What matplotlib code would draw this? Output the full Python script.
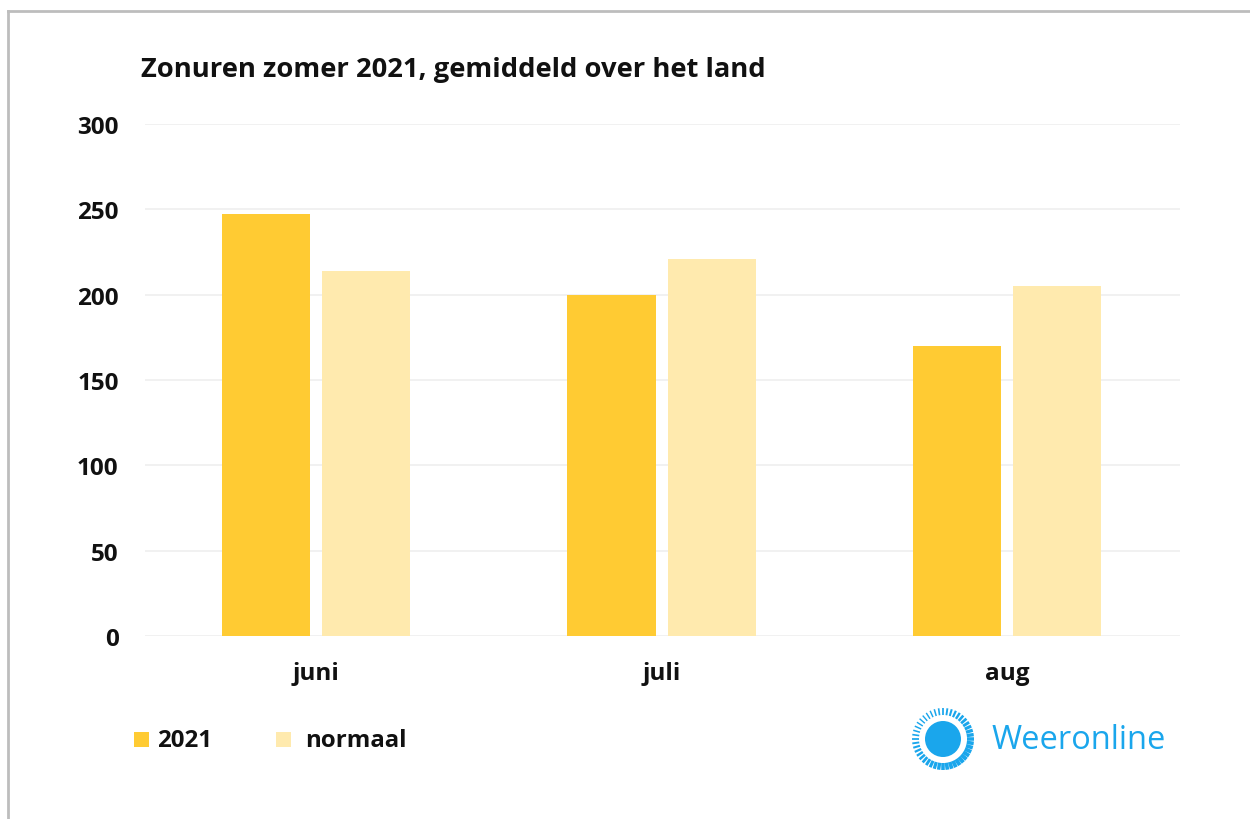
"""Zonuren zomer 2021 - grouped bar chart (Weeronline style)."""

import numpy as np
import matplotlib.pyplot as plt
from matplotlib.patches import Circle, Rectangle

plt.rcParams["font.family"] = ["Open Sans", "DejaVu Sans"]

# data
months = ["juni", "juli", "aug"]
hours_2021 = [247, 200, 170]
hours_normal = [214, 221, 205]
series_labels = ["2021", "normaal"]
y_ticks = [0, 50, 100, 150, 200, 250, 300]

C_2021 = "#FFCB33"
C_NORM = "#FFEAAE"
C_GRID = "#EFEFEF"
C_TEXT = "#111111"
C_BLUE = "#1AA6EC"

fig = plt.figure(figsize=(12.5, 8.2), dpi=100)
fig.patch.set_facecolor("white")

# outer frame (left + top only, as in the screenshot crop)
fig.add_artist(plt.Line2D([8 / 1250, 8 / 1250], [0, 1 - 12 / 820],
                          color="#BDBDBD", lw=2, transform=fig.transFigure))
fig.add_artist(plt.Line2D([8 / 1250, 1], [1 - 12 / 820, 1 - 12 / 820],
                          color="#BDBDBD", lw=2, transform=fig.transFigure))

ax = fig.add_axes([145 / 1250, 1 - 637 / 820, 1035 / 1250, 512 / 820])
x = np.arange(len(months))
w = 0.255
off = 0.145
ax.bar(x - off, hours_2021, width=w, color=C_2021, zorder=3)
ax.bar(x + off, hours_normal, width=w, color=C_NORM, zorder=3)

ax.set_xlim(-0.495, 2.5)
ax.set_ylim(0, 300)
ax.set_yticks(y_ticks)
ax.yaxis.grid(True, color=C_GRID, lw=1.2, zorder=0)
ax.set_axisbelow(True)
for s in ax.spines.values():
    s.set_visible(False)
ax.tick_params(length=0)
ax.tick_params(axis="y", pad=19)
ax.tick_params(axis="x", pad=18)
ax.set_xticks(x)
ax.set_xticklabels(months)
for lab in ax.get_yticklabels() + ax.get_xticklabels():
    lab.set_fontsize(17.5)
    lab.set_fontweight("bold")
    lab.set_color(C_TEXT)

fig.text(141 / 1250, 1 - 70 / 820, "Zonuren zomer 2021, gemiddeld over het land",
         fontsize=19.7, fontweight="bold", color=C_TEXT, va="center", ha="left")

# legend
for xs, col, lab, xt in [(134, C_2021, series_labels[0], 157),
                         (276, C_NORM, series_labels[1], 305)]:
    fig.add_artist(Rectangle((xs / 1250, 1 - 748 / 820), 15 / 1250, 15 / 820,
                             transform=fig.transFigure, color=col, lw=0))
    fig.text(xt / 1250, 1 - 741 / 820, lab, fontsize=17.3, fontweight="bold",
             color=C_TEXT, va="center", ha="left")

# logo
lax = fig.add_axes([908 / 1250, 1 - 775 / 820, 70 / 1250, 70 / 820])
lax.set_xlim(-35, 35)
lax.set_ylim(-35, 35)
lax.set_aspect("equal")
lax.axis("off")
lax.add_patch(Circle((0, 0), 18, color=C_BLUE, lw=0))
angles = np.linspace(0, 2 * np.pi, 44, endpoint=False)
for a in angles:
    # rays get thinner towards the upper left
    strength = 0.5 + 0.5 * np.cos(a + np.pi / 4)
    lax.plot([24 * np.cos(a), 31 * np.cos(a)], [24 * np.sin(a), 31 * np.sin(a)],
             color=C_BLUE, lw=1.0 + 1.8 * strength, solid_capstyle="butt")
fig.text(992 / 1250, 1 - 741 / 820, "Weeronline", fontsize=23.5, color=C_BLUE,
         va="center", ha="left")

fig.savefig("out.png", dpi=100, facecolor="white")
